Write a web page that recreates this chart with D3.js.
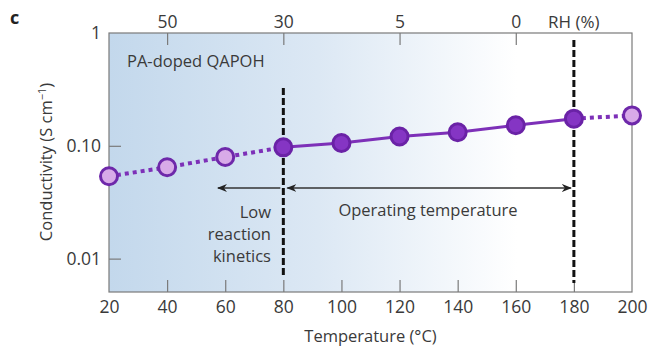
<!DOCTYPE html>
<html>
<head>
<meta charset="utf-8">
<script src="https://cdn.jsdelivr.net/npm/d3@7"></script>
<style>
  body { margin: 0; background: #fff; }
  text { font-family: "Open Sans", sans-serif; fill: #3a3a3a; }
  .axis path, .axis line { stroke: #7a7a7a; stroke-width: 1.2; }
  .axis text { font-size: 17.5px; }
</style>
</head>
<body>
<div id="chart"></div>
<script>
// data
const temps = [20, 40, 60, 80, 100, 120, 140, 160, 180, 200];
const conductivity = [0.0537, 0.0645, 0.0796, 0.097, 0.106, 0.121, 0.132, 0.152, 0.174, 0.186];
const tempTicks = [20, 40, 60, 80, 100, 120, 140, 160, 180, 200];
const condTicks = [0.01, 0.1, 1];
const condTickLabels = ["0.01", "0.10", "1"];
const rhTemps = [40, 80, 120, 160];
const rhLabels = ["50", "30", "5", "0"];
const opRange = [80, 180];

let width = 650, height = 349;
let margin = {top: 33, right: 18, bottom: 57, left: 109};

let svg = d3.select("#chart").append("svg")
    .attr("width", width)
    .attr("height", height)

let x = d3.scaleLinear().domain([20, 200]).range([margin.left, width - margin.right])
let y = d3.scaleLog().domain([0.00506, 1]).range([height - margin.bottom, margin.top])

// background gradient
let defs = svg.append("defs")
let grad = defs.append("linearGradient")
    .attr("id", "bg").attr("x1", "0%").attr("x2", "100%")
grad.append("stop").attr("offset", "0%").attr("stop-color", "#c3d8ec")
grad.append("stop").attr("offset", "40%").attr("stop-color", "#dce8f4")
grad.append("stop").attr("offset", "78%").attr("stop-color", "#ffffff")

svg.append("rect")
    .attr("x", x(20)).attr("y", y(1))
    .attr("width", x(200) - x(20))
    .attr("height", y(0.00506) - y(1))
    .attr("fill", "url(#bg)")

// frame
svg.append("rect")
    .attr("x", x(20)).attr("y", y(1))
    .attr("width", x(200) - x(20))
    .attr("height", y(0.00506) - y(1))
    .attr("fill", "none").attr("stroke", "#7a7a7a").attr("stroke-width", 1.2)

// axes
let xAxis = svg.append("g").attr("class", "axis")
    .attr("transform", "translate(0," + y(0.00506) + ")")
    .call(d3.axisBottom(x).tickValues(tempTicks).tickSize(-12).tickPadding(9))
xAxis.selectAll(".tick line").filter(d => d == 20 || d == 200).remove()

let yAxis = svg.append("g").attr("class", "axis")
    .attr("transform", "translate(" + x(20) + ",0)")
    .call(d3.axisLeft(y).tickValues(condTicks).tickSize(-12).tickPadding(8)
        .tickFormat((d, i) => condTickLabels[i]))
yAxis.selectAll(".tick line").filter(d => d == 1).remove()

let topAxis = svg.append("g").attr("class", "axis")
    .attr("transform", "translate(0," + y(1) + ")")
    .call(d3.axisTop(x).tickValues(rhTemps).tickSize(-12).tickPadding(5)
        .tickFormat((d, i) => rhLabels[i]))
topAxis.select(".domain").remove()
xAxis.select(".domain").remove()
yAxis.select(".domain").remove()

svg.append("text")
    .attr("x", x(180)).attr("y", y(1) - 5)
    .attr("text-anchor", "middle")
    .style("font-size", "17px")
    .text("RH (%)")

// axis titles
svg.append("text")
    .attr("x", (x(20) + x(200)) / 2).attr("y", 342)
    .attr("text-anchor", "middle")
    .style("font-size", "16.5px")
    .text("Temperature (°C)")

svg.append("text")
    .attr("transform", "translate(52," + 162 + ") rotate(-90)")
    .attr("text-anchor", "middle")
    .style("font-size", "16.5px")
    .html("Conductivity (S cm<tspan dy='-6' font-size='11px'>−1</tspan><tspan dy='6'>)</tspan>")

svg.append("text")
    .attr("x", 10).attr("y", 24)
    .style("font-size", "18px").style("font-weight", "bold").style("fill", "#222")
    .text("c")

svg.append("text")
    .attr("x", 127).attr("y", 67)
    .style("font-size", "16.5px")
    .text("PA-doped QAPOH")

// dashed boundaries
svg.append("line")
    .attr("x1", x(opRange[0])).attr("x2", x(opRange[0]))
    .attr("y1", 88).attr("y2", 278)
    .attr("stroke", "#111").attr("stroke-width", 3).attr("stroke-dasharray", "7,3")
svg.append("line")
    .attr("x1", x(opRange[1])).attr("x2", x(opRange[1]))
    .attr("y1", 40).attr("y2", 283)
    .attr("stroke", "#111").attr("stroke-width", 3).attr("stroke-dasharray", "7,3")

// arrows
defs.append("marker").attr("id", "head")
    .attr("viewBox", "0 0 10 10").attr("refX", 9).attr("refY", 5)
    .attr("markerWidth", 10).attr("markerHeight", 10).attr("orient", "auto-start-reverse")
    .attr("markerUnits", "userSpaceOnUse")
    .append("path").attr("d", "M0,1 L10,5 L0,9 L3,5 Z").attr("fill", "#222")

let arrowY = 188
svg.append("line")
    .attr("x1", x(opRange[0]) - 3).attr("x2", x(57.5))
    .attr("y1", arrowY).attr("y2", arrowY)
    .attr("stroke", "#333").attr("stroke-width", 1.4)
    .attr("marker-end", "url(#head)")
svg.append("line")
    .attr("x1", x(opRange[0]) + 4).attr("x2", x(opRange[1]) - 3)
    .attr("y1", arrowY).attr("y2", arrowY)
    .attr("stroke", "#333").attr("stroke-width", 1.4)
    .attr("marker-start", "url(#head)").attr("marker-end", "url(#head)")

let lowText = svg.append("text").attr("text-anchor", "end").style("font-size", "16.5px")
;["Low", "reaction", "kinetics"].forEach((t, i) => {
    lowText.append("tspan").attr("x", 271).attr("y", 218 + i * 22).text(t)
})
svg.append("text")
    .attr("x", 428).attr("y", 216)
    .attr("text-anchor", "middle")
    .style("font-size", "16.5px")
    .text("Operating temperature")

// data line
let pts = temps.map((t, i) => ({t: t, c: conductivity[i]}))
let line = d3.line().x(d => x(d.t)).y(d => y(d.c))
let inOp = d => d.t >= opRange[0] && d.t <= opRange[1]

svg.append("path")
    .datum(pts.filter(d => d.t <= opRange[0]))
    .attr("d", line).attr("fill", "none")
    .attr("stroke", "#7d30b8").attr("stroke-width", 4).attr("stroke-dasharray", "4,4")
svg.append("path")
    .datum(pts.filter(d => d.t >= opRange[1]))
    .attr("d", line).attr("fill", "none")
    .attr("stroke", "#7d30b8").attr("stroke-width", 4).attr("stroke-dasharray", "4,4")
svg.append("path")
    .datum(pts.filter(inOp))
    .attr("d", line).attr("fill", "none")
    .attr("stroke", "#7d30b8").attr("stroke-width", 3)

svg.selectAll("circle.pt")
    .data(pts)
    .enter()
    .append("circle")
    .attr("class", "pt")
    .attr("cx", d => x(d.t))
    .attr("cy", d => y(d.c))
    .attr("r", 8.5)
    .attr("fill", d => inOp(d) ? "#8535c4" : "#d8aae8")
    .attr("stroke", d => inOp(d) ? "#6a22a6" : "#6e28aa")
    .attr("stroke-width", 3)
</script>
</body>
</html>
